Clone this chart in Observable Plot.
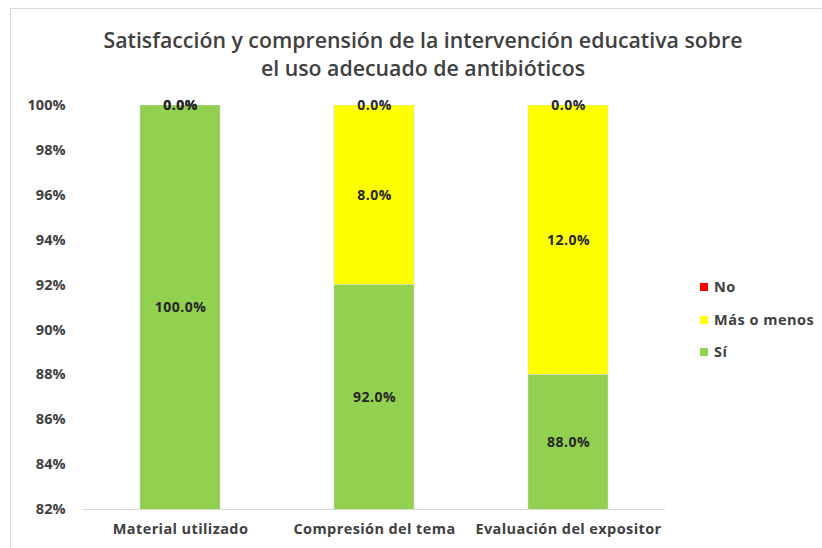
<!DOCTYPE html>
<html>
<head>
<meta charset="utf-8">
<script src="https://cdn.jsdelivr.net/npm/d3@7"></script>
<script src="https://cdn.jsdelivr.net/npm/@observablehq/plot@0.6"></script>
<style>
  body { margin: 0; background: #fff; font-family: "Open Sans", Lato, sans-serif; }
  #wrap { position: relative; width: 822px; height: 548px; overflow: hidden; }
  #frame { position: absolute; left: 10px; top: 8px; width: 830px; height: 560px; border: 1px solid #d9d9d9; box-sizing: border-box; }
  #title { position: absolute; left: 0; width: 846px; top: 26px; text-align: center; font-size: 21.3px; font-weight: 600; color: #404040; line-height: 28px; }
  #legend { position: absolute; left: 700px; top: 277px; font-size: 14.5px; font-weight: 700; color: #404040; letter-spacing: 0.5px; }
  #legend div { height: 32.5px; display: flex; align-items: flex-start; line-height: 20px; }
  #legend span.sw { display: inline-block; width: 8px; height: 8px; margin-right: 6px; margin-top: 6px; }
  #chart { position: absolute; left: 0; top: 0; }
</style>
</head>
<body>
<div id="wrap">
  <div id="frame"></div>
  <div id="chart"></div>
  <div id="title">Satisfacción y comprensión de la intervención educativa sobre<br>el uso adecuado de antibióticos</div>
  <div id="legend"></div>
</div>
<script>
const categories = ["Material utilizado", "Compresión del tema", "Evaluación del expositor"];
const series = ["Sí", "Más o menos", "No"];
const si = [100.0, 92.0, 88.0];
const masOMenos = [0.0, 8.0, 12.0];
const no = [0.0, 0.0, 0.0];
const colors = ["#92D050", "#FFFF00", "#FF0000"];
const yTicks = [82, 84, 86, 88, 90, 92, 94, 96, 98, 100];
const yMin = 82, yMax = 100;

const valuesBySeries = [si, masOMenos, no];
const rows = [];
categories.forEach((c, i) => {
  let acc = 0;
  series.forEach((s, j) => {
    const v = valuesBySeries[j][i];
    const y1 = acc, y2 = acc + v;
    acc = y2;
    const lo = Math.max(y1, yMin), hi = Math.min(y2, yMax);
    rows.push({cat: c, series: s, value: v, y1, y2, ym: (lo + hi) / 2});
  });
});

const chart = Plot.plot({
  width: 822,
  height: 548,
  marginTop: 105,
  marginBottom: 39,
  marginLeft: 82,
  marginRight: 157,
  style: {fontFamily: "'Open Sans', Lato, sans-serif", background: "transparent"},
  x: {domain: categories, paddingInner: 0.59, paddingOuter: 0.295, label: null, tickSize: 0, tickPadding: 14},
  y: {domain: [yMin, yMax], ticks: yTicks, tickFormat: d => d + "%", label: null, tickSize: 0, tickPadding: 17},
  color: {domain: series, range: colors},
  marks: [
    Plot.barY(rows.filter(d => d.value > 0), {x: "cat", y1: "y1", y2: "y2", fill: "series", clip: true, stroke: "#d0d0d0", strokeWidth: 0.5}),
    Plot.ruleY([yMin], {stroke: "#d9d9d9", strokeWidth: 1.2}),
    Plot.text(rows, {x: "cat", y: "ym", text: d => d.value.toFixed(1) + "%", fill: "#262626", fontSize: 14, fontWeight: 700})
  ]
});
chart.querySelectorAll("[aria-label='x-axis tick label']").forEach(g => {
  g.setAttribute("font-size", "14.5");
  g.setAttribute("font-weight", "700");
  g.setAttribute("fill", "#404040");
  g.style.letterSpacing = "0.4px";
});
chart.querySelectorAll("[aria-label='y-axis tick label']").forEach(g => {
  g.setAttribute("font-size", "14.5");
  g.setAttribute("font-weight", "700");
  g.setAttribute("fill", "#404040");
});
chart.querySelectorAll("[aria-label='text']").forEach(g => {
  g.style.letterSpacing = "0.5px";
});
document.getElementById("chart").appendChild(chart);

const legend = document.getElementById("legend");
[...series].reverse().forEach(s => {
  const row = document.createElement("div");
  const sw = document.createElement("span");
  sw.className = "sw";
  sw.style.background = colors[series.indexOf(s)];
  row.appendChild(sw);
  row.appendChild(document.createTextNode(s));
  legend.appendChild(row);
});
</script>
</body>
</html>
